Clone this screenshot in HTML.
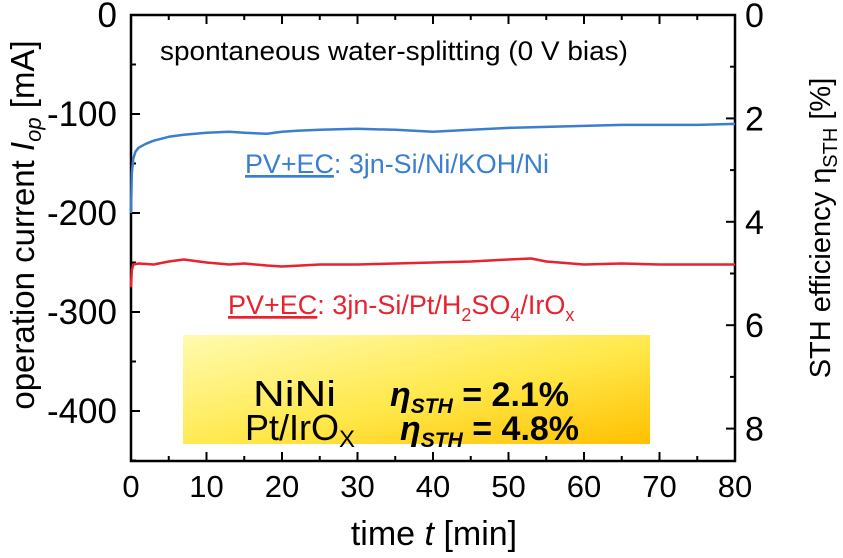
<!DOCTYPE html>
<html><head><meta charset="utf-8"><style>
body{margin:0;background:#fff;}
svg{display:block;font-family:"Liberation Sans",sans-serif;}
</style></head><body>
<svg id="c" width="843" height="558" xmlns="http://www.w3.org/2000/svg">
<defs><linearGradient id="g" x1="0" y1="0" x2="1" y2="1">
<stop offset="0" stop-color="#fffbb0"/><stop offset="0.55" stop-color="#ffe84a"/><stop offset="1" stop-color="#ffc000"/></linearGradient></defs>
<g id="plot"></g>
</svg>
<script>
const timesBlue=[0,0.1,0.3,0.6,1,2,3,5,7,10,13,15,18,20,22,25,30,35,40,45,50,55,60,65,70,75,80];
const currentBlue=[-200,-160,-145,-138,-134,-130,-127,-123,-121,-119,-118,-119,-120,-118,-117,-116,-115,-116,-118,-116,-114,-113,-112,-111,-111,-111,-110];
const timesRed=[0,0.1,0.3,1,3,5,7,10,13,15,18,20,25,30,35,40,45,50,53,55,60,65,70,75,80];
const currentRed=[-275,-258,-252,-251,-252,-249,-247,-250,-252,-251,-253,-254,-252,-252,-251,-250,-249,-247,-246,-249,-252,-251,-252,-252,-252];
const xTicks=[0,10,20,30,40,50,60,70,80];
const yTicks=[0,-100,-200,-300,-400];
const y2Ticks=[0,2,4,6,8];
const NS="http://www.w3.org/2000/svg";
const X0=131,X1=735,Y0=15,YB=461;
const xs=t=>X0+(t/80)*(X1-X0);
const ys=v=>Y0+(-v/100)*99;
const y2s=p=>Y0+p*51.7;
const g=document.getElementById('plot');
function el(tag,attrs,txt){const e=document.createElementNS(NS,tag);for(const k in attrs)e.setAttribute(k,attrs[k]);if(txt!==undefined)e.textContent=txt;g.appendChild(e);return e;}
let b=el('rect',{x:183,y:335,width:467,height:109,fill:'url(#g)'});


let f=el('rect',{x:X0,y:Y0,width:X1-X0,height:YB-Y0,fill:'none',stroke:'#000','stroke-width':2.5});


for(let t=0;t<=80;t+=5){const major=t%10===0;
 el('line',{x1:xs(t),x2:xs(t),y1:YB,y2:YB-(major?9:5),stroke:'#000','stroke-width':2});
 el('line',{x1:xs(t),x2:xs(t),y1:Y0,y2:Y0+(major?9:5),stroke:'#000','stroke-width':2});}
xTicks.forEach(t=>{const e=el('text',{x:xs(t),y:497,'font-size':31,'text-anchor':'middle'},t);
 
 });
for(let v=0;v>=-450;v-=50){const major=v%100===0;
 el('line',{x1:X0,x2:X0+(major?9:5),y1:ys(v),y2:ys(v),stroke:'#000','stroke-width':2});}
yTicks.forEach(v=>{const e=el('text',{x:X0-14,y:ys(v)+12,'font-size':35,'text-anchor':'end'},v);
 
 });
for(let p=0;p<=8.5;p+=1){const major=p%2===0;
 el('line',{x1:X1,x2:X1-(major?9:5),y1:y2s(p),y2:y2s(p),stroke:'#000','stroke-width':2});}
y2Ticks.forEach(p=>{const e=el('text',{x:X1+10,y:y2s(p)+12,'font-size':34},p);
 
 });
function line(ts,vs,col,name){const d=ts.map((t,i)=>(i?'L':'M')+xs(t).toFixed(1)+','+ys(vs[i]).toFixed(1)).join('');
 const p=el('path',{d:d,fill:'none',stroke:col,'stroke-width':2.5,'stroke-linejoin':'round'});
 
 }
line(timesBlue,currentBlue,'#3a7fcf','series-nini');
line(timesRed,currentRed,'#e8222e','series-pt-irox');
</script>
<svg width="843" height="558" style="position:absolute;left:0;top:0" xmlns="http://www.w3.org/2000/svg">
<text x="160" y="60" font-size="27" textLength="468" lengthAdjust="spacingAndGlyphs">spontaneous water-splitting (0 V bias)</text>
<text x="245" y="173" font-size="27" fill="#3a7fcf" textLength="304" lengthAdjust="spacingAndGlyphs"><tspan text-decoration="underline">PV+EC</tspan>: 3jn-Si/Ni/KOH/Ni</text>
<text x="228" y="314" font-size="27" fill="#e8222e"><tspan text-decoration="underline">PV+EC</tspan>: 3jn-Si/Pt/H<tspan font-size="18" dy="7">2</tspan><tspan dy="-7">SO</tspan><tspan font-size="18" dy="7">4</tspan><tspan dy="-7">/IrO</tspan><tspan font-size="18" dy="7">x</tspan></text>
<text x="253" y="406" font-size="36" textLength="83" lengthAdjust="spacingAndGlyphs">NiNi</text>
<text x="390" y="406" font-size="34" font-weight="bold"><tspan font-style="italic">η</tspan><tspan font-style="italic" font-size="21" dy="7">STH</tspan><tspan dy="-7"> = 2.1%</tspan></text>
<text x="245" y="440" font-size="36">Pt/IrO<tspan font-size="24" dy="7">X</tspan></text>
<text x="400" y="440" font-size="34" font-weight="bold"><tspan font-style="italic">η</tspan><tspan font-style="italic" font-size="21" dy="7">STH</tspan><tspan dy="-7"> = 4.8%</tspan></text>
<text x="434" y="545" font-size="34" text-anchor="middle">time <tspan font-style="italic">t</tspan> [min]</text>
<text transform="translate(34,225) rotate(-90)" font-size="33" text-anchor="middle">operation current <tspan font-style="italic">I</tspan><tspan font-style="italic" font-size="22" dy="7">op</tspan><tspan dy="-7"> [mA]</tspan></text>
<text transform="translate(830,228) rotate(-90)" font-size="29" text-anchor="middle">STH efficiency η<tspan font-size="20" dy="7">STH</tspan><tspan dy="-7"> [%]</tspan></text>
</svg>
</body></html>
